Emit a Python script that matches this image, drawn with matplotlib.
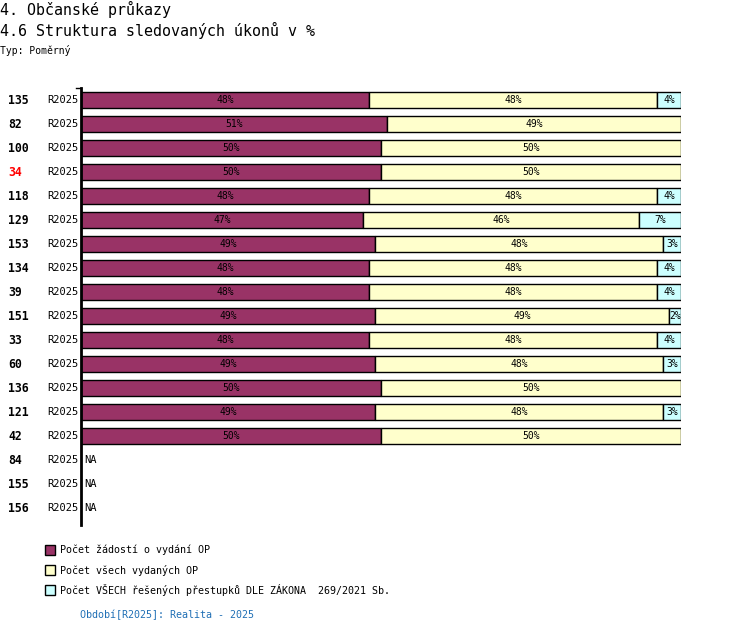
import matplotlib.pyplot as plt
from matplotlib.transforms import blended_transform_factory
from matplotlib.patches import Rectangle

# data
row_ids = ['135', '82', '100', '34', '118', '129', '153', '134', '39',
           '151', '33', '60', '136', '121', '42', '84', '155', '156']
period = 'R2025'
zadosti = [48, 51, 50, 50, 48, 47, 49, 48, 48, 49, 48, 49, 50, 49, 50, None, None, None]
vydane = [48, 49, 50, 50, 48, 46, 48, 48, 48, 49, 48, 48, 50, 48, 50, None, None, None]
prestupky = [4, 0, 0, 0, 4, 7, 3, 4, 4, 2, 4, 3, 0, 3, 0, None, None, None]
series_names = ['Počet žádostí o vydání OP',
                'Počet všech vydaných OP',
                'Počet VŠECH řešených přestupků DLE ZÁKONA  269/2021 Sb.']
colors = ['#993366', '#ffffcc', '#ccffff']
highlight = '34'

W, H = 750, 634
fig = plt.figure(figsize=(W / 100, H / 100), dpi=100)
mono = 'DejaVu Sans Mono'

def fx(px):
    return px / W

def fy(py):
    return 1 - py / H

# titles
fig.text(fx(0), fy(9), '4. Občanské průkazy', family=mono, fontsize=10.8, va='center')
fig.text(fx(0), fy(30), '4.6 Struktura sledovaných úkonů v %', family=mono, fontsize=10.8, va='center')
fig.text(fx(0), fy(50), 'Typ: Poměrný', family=mono, fontsize=7, va='center')

# axes: x 81..681 px, y 88..525 px
ax = fig.add_axes([fx(81), fy(525), fx(681) - fx(81), fy(88) - fy(525)])
ax.set_xlim(0, 100)
ax.set_ylim(17.7, -0.5)
for s in ['top', 'right', 'bottom']:
    ax.spines[s].set_visible(False)
ax.spines['left'].set_linewidth(2)
ax.set_xticks([])
ax.set_yticks([])
ax.plot([-0.9, 0], [-0.5, -0.5], color='black', lw=1, clip_on=False)

tr = blended_transform_factory(fig.transFigure, ax.transData)
series = [zadosti, vydane, prestupky]
for i, rid in enumerate(row_ids):
    c = 'red' if rid == highlight else 'black'
    ax.text(fx(8), i, rid, transform=tr, family=mono, fontsize=8.3, fontweight='bold',
            color=c, va='center', ha='left')
    ax.text(fx(78), i, period, transform=tr, family=mono, fontsize=7.5,
            va='center', ha='right')
    if zadosti[i] is None:
        ax.text(0.6, i, 'NA', family=mono, fontsize=7.5, va='center', ha='left')
        continue
    left = 0
    for vals, col in zip(series, colors):
        v = vals[i]
        if not v:
            continue
        ax.barh(i, v, left=left, height=0.66, color=col, edgecolor='black', linewidth=1)
        ax.text(left + v / 2, i, f'{v}%', family=mono, fontsize=7, va='center', ha='center')
        left += v

# legend
for k, (name, col) in enumerate(zip(series_names, colors)):
    py = 550 + 20 * k
    fig.patches.append(Rectangle((fx(45), fy(py + 5)), fx(10), fy(py - 5) - fy(py + 5),
                                 transform=fig.transFigure, facecolor=col,
                                 edgecolor='black', linewidth=1))
    fig.text(fx(60), fy(py), name, family=mono, fontsize=7.2, va='center')

fig.text(fx(80), fy(615), 'Období[R2025]: Realita - 2025', family=mono, fontsize=7.2,
         color='#1f6fb5', va='center')

fig.savefig('out.png', dpi=100)
